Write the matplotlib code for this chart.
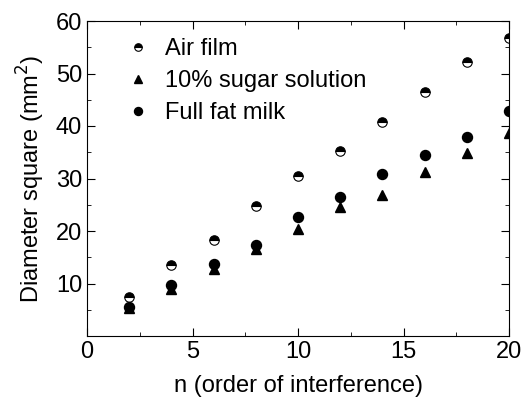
import matplotlib
matplotlib.use("Agg")
import matplotlib.pyplot as plt
from matplotlib.ticker import MultipleLocator

plt.rcParams['font.family'] = ['Liberation Sans', 'DejaVu Sans']

n = [2, 4, 6, 8, 10, 12, 14, 16, 18, 20]
air_film = [7.5, 13.5, 18.3, 24.8, 30.5, 35.2, 40.8, 46.5, 52.1, 56.8]
sugar = [5.3, 9.0, 12.8, 16.5, 20.3, 24.5, 26.8, 31.2, 34.8, 38.7]
milk = [5.6, 9.8, 13.8, 17.3, 22.6, 26.5, 30.8, 34.5, 38.0, 42.9]

fig = plt.figure(figsize=(5.22, 4.01), dpi=100)
ax = fig.add_axes([87 / 522, 1 - 336 / 401, 422 / 522, 315 / 401])

ax.plot(n, air_film, 'o', ls='none', ms=6.8, fillstyle='top', color='black',
        markerfacecoloralt='white', markeredgewidth=0.8, label='Air film')
ax.plot(n, sugar, '^', ls='none', ms=7.5, color='black', label='10% sugar solution')
ax.plot(n, milk, 'o', ls='none', ms=7.2, color='black', label='Full fat milk')

ax.set_xlim(0, 20)
ax.set_ylim(0, 60)
ax.xaxis.set_major_locator(MultipleLocator(5))
ax.xaxis.set_minor_locator(MultipleLocator(2.5))
ax.yaxis.set_minor_locator(MultipleLocator(5))
ax.set_yticks([10, 20, 30, 40, 50, 60])
ax.tick_params(which='both', direction='in', top=True, right=True, labelsize=17)
ax.tick_params(which='major', length=6)
ax.tick_params(which='minor', length=3)

ax.set_xlabel('n (order of interference)', fontsize=17, labelpad=9)
ax.set_ylabel('Diameter square (mm$^2$)', fontsize=17, labelpad=6)

ax.legend(loc='upper left', bbox_to_anchor=(0.065, 0.975), borderaxespad=0,
          frameon=False, fontsize=17, handletextpad=0.55, labelspacing=0.42,
          handlelength=1.2, markerscale=0.8)

fig.savefig('out.png', dpi=100)
